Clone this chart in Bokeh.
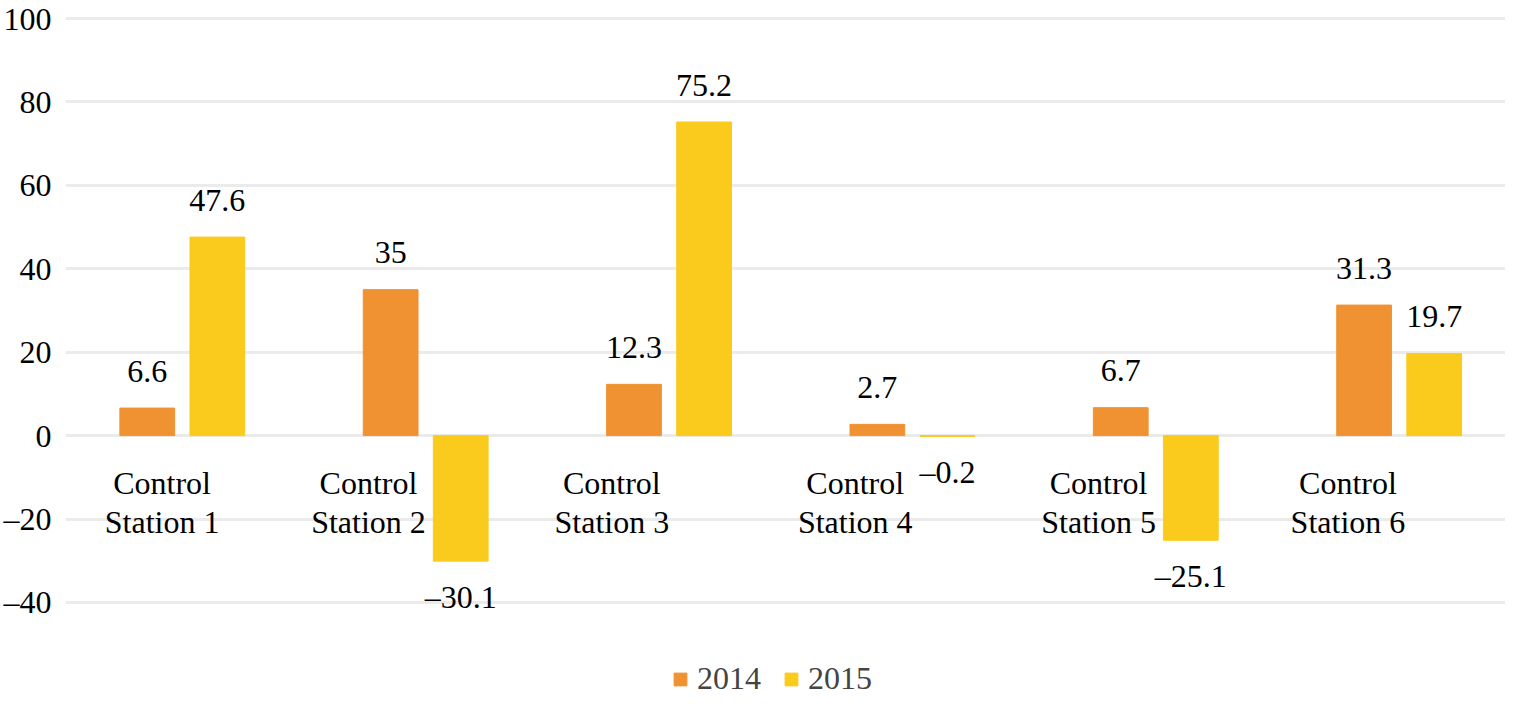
from bokeh.plotting import figure
from bokeh.models import ColumnDataSource, FixedTicker, Legend, LegendItem
from bokeh.core.properties import value
from bokeh.embed import file_html
from bokeh.resources import INLINE

# data
stations = ["Control\nStation 1", "Control\nStation 2", "Control\nStation 3",
            "Control\nStation 4", "Control\nStation 5", "Control\nStation 6"]
v2014 = [6.6, 35, 12.3, 2.7, 6.7, 31.3]
v2015 = [47.6, -30.1, 75.2, -0.2, -25.1, 19.7]
yticks = [-40, -20, 0, 20, 40, 60, 80, 100]

SERIF = "'Liberation Serif', serif"
FONT = value(SERIF)
FSIZE = "32px"
C14 = "#F09232"
C15 = "#FACB1C"
# small horizontal nudges (px) of the category labels, as placed in the original
label_nudge = [37, 0, 0, 0, 0, 6]

def fmt(v):
    return f"{v:g}".replace("-", "\u2013")

xs = [i + 0.5 for i in range(len(stations))]

p = figure(width=1505, height=697, x_range=(0.02, 5.937), y_range=(-62.8, 101.7),
           output_backend="svg", toolbar_location=None, tools="",
           min_border_top=11, min_border_bottom=0, min_border_right=0, min_border_left=10)

# grid / axes
p.xaxis.visible = False
p.xgrid.grid_line_color = None
p.yaxis.ticker = FixedTicker(ticks=yticks)
p.ygrid.ticker = FixedTicker(ticks=yticks)
p.ygrid.grid_line_color = "#EBEBEB"
p.ygrid.grid_line_width = 3
p.yaxis.axis_line_color = None
p.yaxis.major_tick_line_color = None
p.yaxis.minor_tick_line_color = None
p.yaxis.major_label_standoff = 8
p.yaxis.major_label_text_font = SERIF
p.yaxis.major_label_text_font_size = FSIZE
p.yaxis.major_label_text_color = "black"
p.yaxis.major_label_overrides = {t: fmt(t) for t in yticks if t < 0}
p.outline_line_color = None

off = 0.144
bw = 0.225
src14 = ColumnDataSource(dict(x=[x - off for x in xs], top=v2014, lab=[fmt(v) for v in v2014]))
src15 = ColumnDataSource(dict(x=[x + off for x in xs], top=v2015, lab=[fmt(v) for v in v2015]))

r14 = p.vbar(x="x", top="top", bottom=0, width=bw, color=C14, source=src14)
r15 = p.vbar(x="x", top="top", bottom=0, width=bw, color=C15, source=src15)

# value labels: above positive bars, below negative ones
for src in (src14, src15):
    d = src.data
    pos = ColumnDataSource(dict(
        x=[x for x, t in zip(d["x"], d["top"]) if t >= 0],
        y=[t for t in d["top"] if t >= 0],
        lab=[l for l, t in zip(d["lab"], d["top"]) if t >= 0]))
    neg = ColumnDataSource(dict(
        x=[x for x, t in zip(d["x"], d["top"]) if t < 0],
        y=[t for t in d["top"] if t < 0],
        lab=[l for l, t in zip(d["lab"], d["top"]) if t < 0]))
    p.text(x="x", y="y", text="lab", source=pos, text_align="center",
           text_baseline="alphabetic", y_offset=-37, text_font=FONT,
           text_font_size=FSIZE, text_color="black")
    p.text(x="x", y="y", text="lab", source=neg, text_align="center",
           text_baseline="top", y_offset=18, text_font=FONT,
           text_font_size=FSIZE, text_color="black")

# category labels just below the zero line, left of each group
cat = ColumnDataSource(dict(x=[x - 0.235 for x in xs], y=[0] * len(xs), lab=stations,
                            dx=label_nudge))
p.text(x="x", y="y", text="lab", source=cat, text_align="center", x_offset="dx",
       text_baseline="top", y_offset=29, text_font=FONT, text_font_size=FSIZE,
       text_color="black", text_line_height=1.09)

legend = Legend(items=[LegendItem(label="2014", renderers=[r14]),
                       LegendItem(label="2015", renderers=[r15])],
                orientation="horizontal", location=(607, 0),
                border_line_color=None, background_fill_alpha=0,
                label_text_font=SERIF, label_text_font_size=FSIZE,
                glyph_width=16, glyph_height=16, spacing=22, label_standoff=9,
                padding=0, margin=0)
p.add_layout(legend, "center")

open("out.html", "w").write(file_html(p, INLINE))
